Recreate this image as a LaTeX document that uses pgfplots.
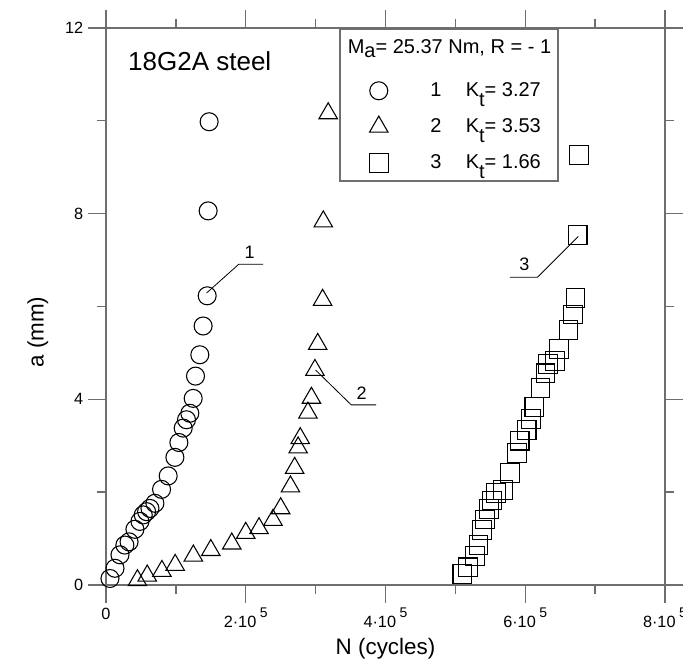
\documentclass[border=0pt]{standalone}
\usepackage{fontspec}
\setmainfont{Liberation Sans}
\usepackage{pgfplots}
\pgfplotsset{compat=1.18}
\definecolor{axgray}{RGB}{110,110,110}
\newcommand{\tf}{\fontsize{12.2}{14}\selectfont}
\newcommand{\expo}[1]{\hspace{2.7pt}\raisebox{7.5pt}{\fontsize{10.5}{11}\selectfont #1}}
\begin{document}
\begin{tikzpicture}
\path[use as bounding box] (-79.5pt,-55.5pt) rectangle (432.75pt,438.75pt);
\begin{axis}[
  at={(0,0)}, anchor=south west,
  scale only axis, width=419.25pt, height=417.75pt,
  xmin=0, xmax=800, ymin=0, ymax=12,
  xtick={0,200,400,600,800}, minor xtick={100,300,500,700},
  xticklabels={{\tf 0}, {\tf 2·10\expo{5}}, {\tf 4·10\expo{5}}, {\tf 6·10\expo{5}}, {\tf 8·10\expo{5}}},
  ytick={0,4,8,12}, minor ytick={2,6,10}, yticklabels={{\tf 0},{\tf 4},{\tf 8},{\tf 12}},
  tick align=outside, major tick length=13.5pt, minor tick length=7pt,
  axis line style={axgray, line width=1.4pt},
  tick style={axgray, line width=1pt},
  xticklabel style={font=\tf},
  yticklabel style={font=\tf},
  xlabel={\fontsize{16.8}{19}\selectfont N (cycles)}, ylabel={\fontsize{16.8}{19}\selectfont a (mm)},
  xlabel style={at={(axis description cs:0.5,-0.1136)}, anchor=center},
  ylabel style={at={(axis description cs:-0.122,0.454)}, anchor=center},
  legend cell align=left,
  legend style={at={(axis description cs:0.4168,1)}, anchor=north west,
    draw=axgray, line width=1.2pt, fill=white, inner sep=0pt,
    column sep=0pt, row sep=0pt,
    nodes={inner sep=0pt, draw=none, font=\fontsize{15}{18}\selectfont}},
  legend image code/.code={\path[draw=none,fill=none] (0pt,-13.5pt) rectangle (68pt,13.5pt);
    \draw[#1] plot coordinates {(29.25pt,0pt)};},
]
\addlegendimage{legend image code/.code={\path[draw=none,fill=none] (0pt,-18.75pt) rectangle (68pt,14.25pt);}}
\addlegendentry{\hspace*{-62pt}M\raisebox{-2.5pt}[0pt][0pt]{a}= 25.37 Nm, R = - 1\hspace*{5pt}}

\addplot[only marks, mark=o, mark size=6.75pt, mark options={black, line width=0.8pt}]
coordinates {
(5.7,0.14)(12.9,0.36)(20,0.65)(27,0.86)(33,0.93)(41.4,1.2)(48.6,1.37)(53.3,1.51)
(58.1,1.58)(62.9,1.65)(70,1.76)(79.5,2.06)(89,2.35)(98.6,2.75)(104.3,3.07)
(110.5,3.38)(115.2,3.56)(120,3.7)(124.8,4.02)(128.1,4.5)(134.3,4.96)(139,5.58)
(144.8,6.23)(146.2,8.06)(147.6,9.98)
};
\addlegendentry{\makebox[26.5pt][l]{1}K\raisebox{-7pt}[0pt][0pt]{t}= 3.27}

\addplot[only marks, mark=triangle, mark size=8pt, mark options={black, line width=0.8pt}]
coordinates {
(45,0.10)(59,0.20)(80,0.30)(99,0.43)(125,0.63)(150,0.75)(180,0.89)(200,1.12)
(219,1.22)(239,1.40)(250,1.65)(264,2.12)(270,2.52)(275,2.96)(278,3.16)(289,3.71)
(294,4.03)(299,4.63)(303,5.19)(310,6.14)(311,7.83)(318,10.16)
};
\addlegendentry{\makebox[26.5pt][l]{2}K\raisebox{-7pt}[0pt][0pt]{t}= 3.53}

\addplot[only marks, mark=square, mark size=7pt, mark options={black, line width=0.8pt}]
coordinates {
(510,0.24)(518,0.38)(528,0.63)(533,0.86)(538,1.19)(542,1.41)(548,1.64)(552,1.82)
(558,1.98)(568,2.05)(578,2.41)(588,2.84)(592,3.11)(602,3.34)(608,3.57)(613,3.84)
(622,4.25)(629,4.56)(633,4.76)(643,4.83)(648,5.08)(662,5.50)(668,5.83)(672,6.18)
(675,7.54)(677,9.26)
};
\addlegendentry{\makebox[26.5pt][l]{3}K\raisebox{-7pt}[0pt][0pt]{t}= 1.66}

\draw[black, line width=0.6pt] (axis cs:143.9,6.29) -- (axis cs:190,6.91) -- (axis cs:224.7,6.91);
\node[font=\fontsize{13.5}{16}\selectfont] at (axis cs:205.7,7.16) {1};
\draw[black, line width=0.6pt] (axis cs:300,4.63) -- (axis cs:351,3.88) -- (axis cs:386.7,3.88);
\node[font=\fontsize{13.5}{16}\selectfont] at (axis cs:365.7,4.14) {2};
\draw[black, line width=0.6pt] (axis cs:676,7.51) -- (axis cs:617.6,6.63) -- (axis cs:578.1,6.63);
\node[font=\fontsize{13.5}{16}\selectfont] at (axis cs:598.6,6.90) {3};
\node[anchor=west, inner sep=0pt, font=\fontsize{19.5}{22}\selectfont] at (axis cs:31.4,11.29) {18G2A steel};
\end{axis}
\end{tikzpicture}
\end{document}
